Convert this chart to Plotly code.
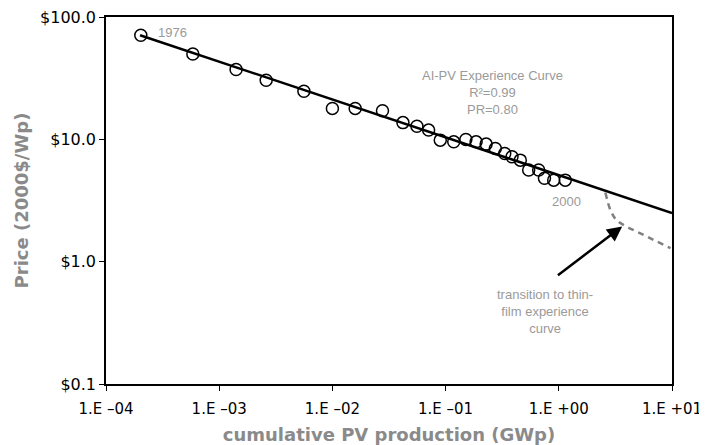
import numpy as np
import plotly.graph_objects as go

# cumulative production (GWp) and module price (2000$/Wp), 1976-2000
cum_gwp = [2.03e-4, 5.85e-4, 1.41e-3, 2.60e-3, 5.60e-3, 1.00e-2, 1.59e-2, 2.77e-2,
           4.20e-2, 5.58e-2, 7.08e-2, 8.97e-2, 0.118, 0.151, 0.186, 0.228, 0.275,
           0.333, 0.386, 0.457, 0.542, 0.664, 0.747, 0.902, 1.14]
price = [71.0, 49.9, 37.2, 30.4, 24.7, 17.9, 17.9, 17.1, 13.7, 12.8, 11.9, 9.85,
         9.54, 9.98, 9.54, 9.14, 8.43, 7.67, 7.20, 6.76, 5.61, 5.61, 4.80, 4.64, 4.64]

# experience curve fit end points
fit_x = [2.0e-4, 10.0]
fit_y = [71.0, 2.5]

# thin-film transition (dashed)
thin_x = [2.58, 2.86, 3.23, 3.75, 5.63, 9.70]
thin_y = [3.67, 2.64, 2.19, 1.99, 1.65, 1.29]

x_ticks = [1e-4, 1e-3, 1e-2, 1e-1, 1e0, 1e1]
x_labels = ["1.E \u201304", "1.E \u201303", "1.E \u201302", "1.E \u201301", "1.E +00", "1.E +01"]
y_ticks = [0.1, 1, 10, 100]
y_labels = ["$0.1", "$1.0", "$10.0", "$100.0"]

narrow = "Liberation Sans Narrow, Liberation Sans, sans-serif"
grey = "#9a9a9a"

fig = go.Figure()
fig.add_trace(go.Scatter(x=fit_x, y=fit_y, mode="lines",
                         line=dict(color="black", width=2.5), showlegend=False))
fig.add_trace(go.Scatter(x=thin_x, y=thin_y, mode="lines", line_shape="spline",
                         line=dict(color="#808080", width=2.5, dash="6px,5px"), showlegend=False))
fig.add_trace(go.Scatter(x=cum_gwp, y=price, mode="markers",
                         marker=dict(symbol="circle-open", size=12, color="black",
                                     line=dict(width=1.5, color="black")),
                         showlegend=False))

fig.add_annotation(x=np.log10(3.63), y=np.log10(1.94), ax=np.log10(0.953), ay=np.log10(0.759),
                   xref="x", yref="y", axref="x", ayref="y", text="", showarrow=True,
                   arrowhead=2, arrowsize=1.2, arrowwidth=2.5, arrowcolor="black")

labels = [
    (-3.416, 1.875, "1976"),
    (0.067, 0.492, "2000"),
    (-0.587, 1.38, "AI-PV Experience Curve<br>R\u00b2=0.99<br>PR=0.80"),
    (-0.118, -0.406, "transition to thin-<br>film experience<br>curve"),
]
for lx, ly, txt in labels:
    fig.add_annotation(x=lx, y=ly, xref="x", yref="y", text=txt, showarrow=False,
                       font=dict(family=narrow, size=13, color=grey), align="center")

fig.update_xaxes(type="log", range=[-4, 1], tickvals=x_ticks, ticktext=x_labels,
                 showgrid=False, zeroline=False, showline=True, linecolor="black",
                 linewidth=1.5, mirror=True, ticks="outside", ticklen=5, tickcolor="black",
                 automargin=False, ticklabeloverflow="allow", ticklabelstandoff=5,
                 tickfont=dict(family="DejaVu Sans", size=15, color="black"),
                 title=dict(text="cumulative PV production (GWp)", standoff=13,
                            font=dict(family="DejaVu Sans", size=18, color="#8a8a8a", weight="bold")))
fig.update_yaxes(type="log", range=[-1, 2], tickvals=y_ticks, ticktext=y_labels,
                 showgrid=False, zeroline=False, showline=True, linecolor="black",
                 linewidth=1.5, mirror=True, ticks="outside", ticklen=5, tickcolor="black",
                 automargin=False, ticklabeloverflow="allow",
                 tickfont=dict(family="DejaVu Sans", size=16, color="black"),
                 title=dict(text="Price (2000$/Wp)", standoff=7,
                            font=dict(family="DejaVu Sans", size=18, color="#8a8a8a", weight="bold")))

# page body adds an 8px margin, so the figure is sized to fit inside it
fig.update_layout(width=699, height=437, plot_bgcolor="white", paper_bgcolor="white",
                  margin=dict(l=98, r=35, t=9, b=61))

fig.write_html("out.html")
